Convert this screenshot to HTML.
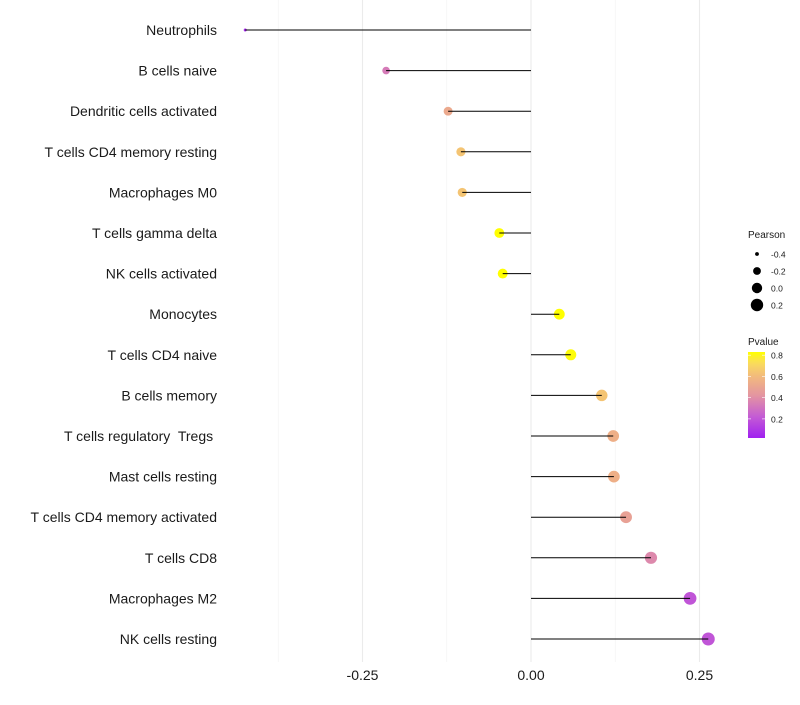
<!DOCTYPE html>
<html><head><meta charset="utf-8"><style>
body{margin:0;background:#fff;font-family:"Liberation Sans",sans-serif}
text{white-space:pre}
</style></head><body>
<svg id="chart" width="800" height="700" xmlns="http://www.w3.org/2000/svg"></svg>
<script>
const categories=["Neutrophils","B cells naive","Dendritic cells activated","T cells CD4 memory resting","Macrophages M0","T cells gamma delta","NK cells activated","Monocytes","T cells CD4 naive","B cells memory","T cells regulatory  Tregs ","Mast cells resting","T cells CD4 memory activated","T cells CD8","Macrophages M2","NK cells resting"];
const pearson=[-0.424,-0.215,-0.123,-0.104,-0.102,-0.047,-0.042,0.042,0.059,0.105,0.122,0.123,0.141,0.178,0.236,0.263];
const pvalues=[0.05,0.33,0.52,0.64,0.64,0.85,0.85,0.85,0.82,0.64,0.55,0.55,0.48,0.38,0.2,0.2];
const xTicks=[-0.25,0,0.25];
const xTickLabels=["-0.25","0.00","0.25"];
const minorTicks=[-0.375,-0.125,0.125];
const sizeLegend=[-0.4,-0.2,0.0,0.2];
const sizeLegendLabels=["-0.4","-0.2","0.0","0.2"];
const colorLegend=[0.2,0.4,0.6,0.8];

const svg=document.getElementById('chart');
const NS="http://www.w3.org/2000/svg";
function el(t,a,p){const e=document.createElementNS(NS,t);for(const k in a)e.setAttribute(k,a[k]);(p||svg).appendChild(e);return e;}
const x=v=>531+v*674;
const y=i=>30+i*40.6;
const r=v=>Math.sqrt(Math.max(0.5,2.25+58.2*(v+0.424)));
const pMin=0.02,pMax=0.83;
const stops=[[0,[160,32,240]],[0.25,[196,92,212]],[0.5,[228,150,160]],[0.72,[242,186,125]],[0.88,[250,222,90]],[1,[255,255,0]]];
function col(p){
  let t=(p-pMin)/(pMax-pMin);t=Math.max(0,Math.min(1,t));
  let k=0;while(k<stops.length-2&&t>stops[k+1][0])k++;
  const [t0,a]=stops[k],[t1,b]=stops[k+1];const u=(t-t0)/(t1-t0);
  return `rgb(${a.map((c,i)=>Math.round(c+(b[i]-c)*u)).join(',')})`;
}
minorTicks.forEach(v=>{const g=el('line',{x1:x(v),x2:x(v),y1:0,y2:662,stroke:'#f2f2f2','stroke-width':0.6});

});
xTicks.forEach((v,i)=>{const g=el('line',{x1:x(v),x2:x(v),y1:0,y2:662,stroke:'#ebebeb','stroke-width':1.1});


const t=el('text',{x:x(v),y:680,'text-anchor':'middle','font-size':14,fill:'#1a1a1a'});t.textContent=xTickLabels[i];

});
categories.forEach((c,i)=>{
  const t=el('text',{x:217,y:y(i)+5,'text-anchor':'end','font-size':14,fill:'#1a1a1a'});t.textContent=c;
  
  
  const d=el('circle',{cx:x(pearson[i]),cy:y(i),r:r(pearson[i]),fill:col(pvalues[i])});
  
  
  const l=el('line',{x1:x(0),x2:x(pearson[i]),y1:y(i),y2:y(i),stroke:'#000','stroke-width':1});
  
  
});
let t=el('text',{x:748,y:238,'font-size':10,fill:'#1a1a1a'});t.textContent='Pearson';


sizeLegend.forEach((v,i)=>{const cyy=254+i*17;
  const c=el('circle',{cx:757,cy:cyy,r:r(v),fill:'#000'});
  
  
  const tt=el('text',{x:771,y:cyy+3.5,'font-size':8.5,fill:'#1a1a1a'});tt.textContent=sizeLegendLabels[i];
  
  });
t=el('text',{x:748,y:345,'font-size':10,fill:'#1a1a1a'});t.textContent='Pvalue';


const defs=el('defs',{});const lg=el('linearGradient',{id:'cg',x1:0,y1:1,x2:0,y2:0},defs);
for(let k=0;k<=20;k++){el('stop',{offset:k/20,'stop-color':col(pMin+(pMax-pMin)*k/20)},lg);}
const barTop=352,barBot=438;
const cyScale=p=>barBot-(p-pMin)/(pMax-pMin)*(barBot-barTop);
const bar=el('rect',{x:748,y:barTop,width:17,height:barBot-barTop,fill:'url(#cg)'});


colorLegend.forEach(v=>{
  el('line',{x1:748,x2:751,y1:cyScale(v),y2:cyScale(v),stroke:'#fff','stroke-width':0.6});
  el('line',{x1:762,x2:765,y1:cyScale(v),y2:cyScale(v),stroke:'#fff','stroke-width':0.6});
  const tt=el('text',{x:771,y:cyScale(v)+3.5,'font-size':8.5,fill:'#1a1a1a'});tt.textContent=v.toFixed(1);
  
  });
</script>
</body></html>
